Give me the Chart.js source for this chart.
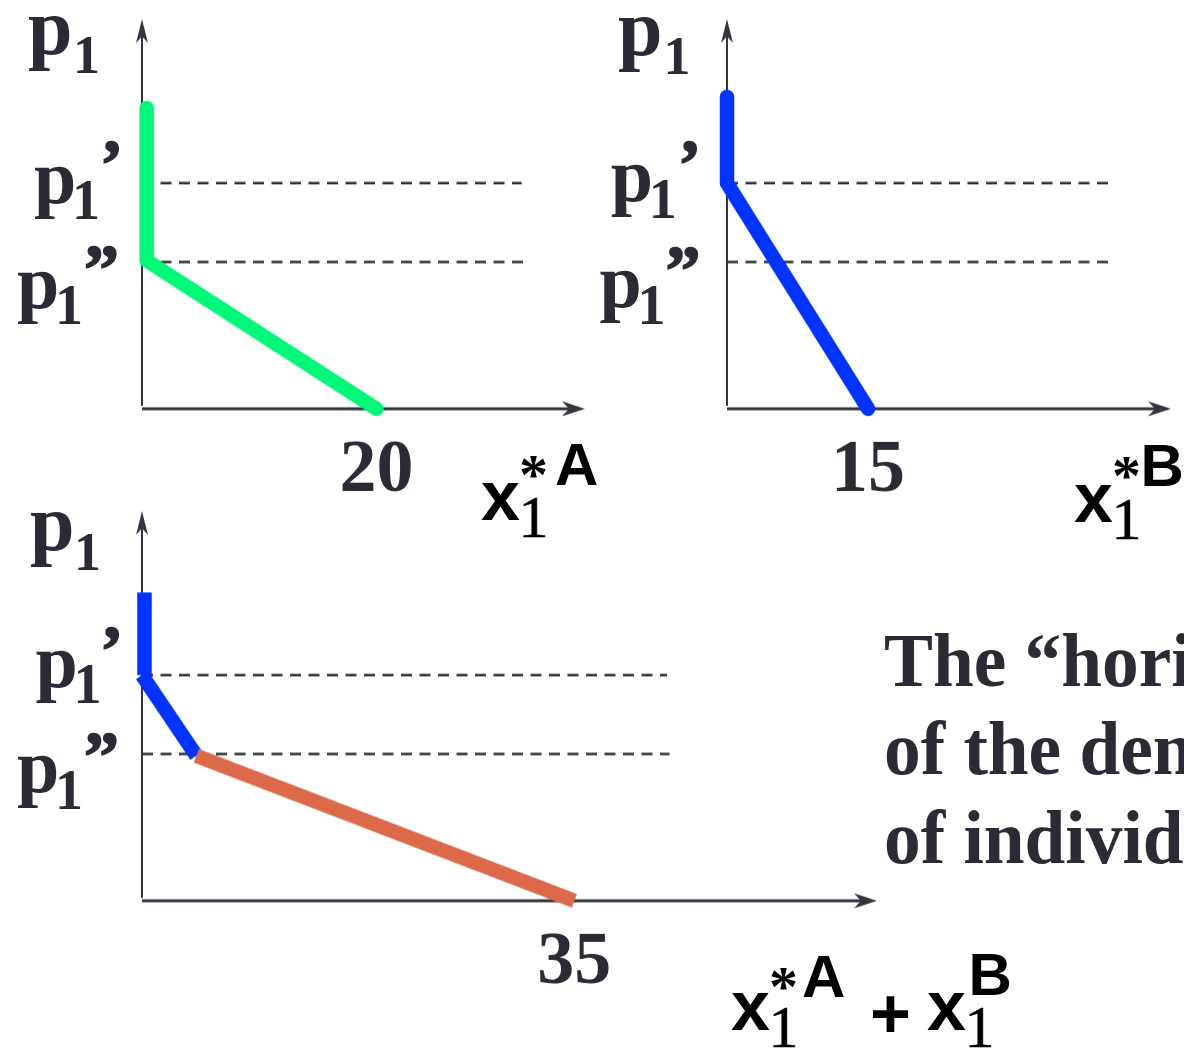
<!DOCTYPE html>
<html>
<head>
<meta charset="utf-8">
<script src="https://cdn.jsdelivr.net/npm/chart.js@4/dist/chart.umd.min.js"></script>
<style>
  html, body { margin:0; padding:0; background:#ffffff; }
  body { width:1184px; height:1050px; overflow:hidden; position:relative; }
  .box { position:absolute; left:0; top:0; }
  #labels { position:absolute; left:0; top:0; pointer-events:none; overflow:hidden; }
  .serifB { font-family:'Liberation Serif','Times New Roman',serif; font-weight:bold; fill:#2b2b36; }
  .prime  { font-family:'Liberation Serif','Times New Roman',serif; font-weight:bold; fill:#2b2b36; stroke:#2b2b36; stroke-width:1.6; }
  .serifR { font-family:'Liberation Serif','Times New Roman',serif; font-weight:normal; fill:#000; stroke:#000; stroke-width:0.6; }
  .star   { font-family:'Liberation Serif','Times New Roman',serif; font-weight:bold; fill:#000; }
  .sansB  { font-family:'Liberation Sans',Arial,sans-serif; font-weight:bold; fill:#000; }
</style>
</head>
<body>
<div class="box" id="wA"><canvas id="cA"></canvas></div>
<div class="box" id="wB"><canvas id="cB"></canvas></div>
<div class="box" id="wC"><canvas id="cC"></canvas></div>
<svg id="labels" width="1184" height="1050" xmlns="http://www.w3.org/2000/svg"></svg>
<script>
// ---------------- DATA ----------------
const PRICE_HIGH = 6.15;   // p1'
const PRICE_LOW  = 4.0;    // p1''
const Y_MAX = 10.62;

// Consumer A demand
const demandA_x = [0.4, 0.4, 20];
const demandA_y = [8.2, 4.04, 0];
// Consumer B demand
const demandB_x = [0, 0, 15];
const demandB_y = [8.5, 6.15, 0];
// Market (horizontal sum) demand, three pieces
const sumTop_x = [0.2, 0.2];
const sumTop_y = [8.4, 6.15];
const sumMid_x = [0, 4.4];
const sumMid_y = [6.15, 3.95];
const sumLow_x = [4.4, 35];
const sumLow_y = [3.95, 0];

// dashed price reference lines (x extents)
const dashA_high_x = [0, 32.4];
const dashA_low_x  = [0, 32.9];
const dashB_high_x = [0, 41.3];
const dashB_low_x  = [0, 41.0];
const dashC_high_x = [0, 42.5];
const dashC_low_x  = [0, 42.7];

// axis extents (x)
const xMaxA = 37.8, xMaxB = 47.2, xMaxC = 59.5;

// tick labels
const ticksA = [20];
const ticksB = [15];
const ticksC = [35];

// texts
const priceSymbol = 'p';
const priceSub = '1';
const primeOne = '\u2019';
const primeTwo = '\u201D';
const paragraph = ['The \u201Chorizontal sum\u201D', 'of the demand curves', 'of individual consumers'];

// ---------------- STYLE / LAYOUT ----------------
const AXIS = '#353541';
const DASH = '#2c2c38';
const GREEN = '#00F878';
const BLUE = '#0033FF';
const ORANGE = '#DC6A4A';
const LINE_W = 14.5;

const targets = {
  A: {left:142.4, top:19,  width:443.1, height:388.6},
  B: {left:727,   top:19,  width:444,   height:388.6},
  C: {left:142.4, top:511, width:734.6, height:389}
};

function pts(xs, ys) { return xs.map((x, i) => ({x: x, y: ys[i]})); }
function flat(xs, y) { return xs.map(x => ({x: x, y: y})); }

function curve(data, color, cap) {
  return { data, borderColor: color, borderWidth: LINE_W, pointRadius: 0, fill: false,
           tension: 0, borderCapStyle: cap, borderJoinStyle: cap === 'round' ? 'round' : 'miter',
           order: 0, clip: false };
}
function dashed(data) {
  return { data, borderColor: DASH, borderWidth: 2.6, borderDash: [11, 7.5], pointRadius: 0,
           fill: false, tension: 0, order: 5, clip: false };
}

const axesPlugin = {
  id: 'axesArrows',
  beforeDatasetsDraw(chart) {
    const ctx = chart.ctx;
    const xs = chart.scales.x, ys = chart.scales.y;
    const x0 = xs.getPixelForValue(0), y0 = ys.getPixelForValue(0);
    const xEnd = xs.getPixelForValue(xs.max), yEnd = ys.getPixelForValue(ys.max);
    ctx.save();
    ctx.strokeStyle = AXIS; ctx.fillStyle = AXIS;
    // vertical axis
    ctx.lineWidth = 2;
    ctx.beginPath(); ctx.moveTo(x0, y0 - 3); ctx.lineTo(x0, yEnd + 12); ctx.stroke();
    ctx.beginPath();
    ctx.moveTo(x0, yEnd); ctx.lineTo(x0 - 6, yEnd + 24); ctx.lineTo(x0, yEnd + 17); ctx.lineTo(x0 + 6, yEnd + 24);
    ctx.closePath(); ctx.fill();
    // horizontal axis
    ctx.lineWidth = 3;
    ctx.beginPath(); ctx.moveTo(x0, y0); ctx.lineTo(xEnd - 12, y0); ctx.stroke();
    ctx.beginPath();
    ctx.moveTo(xEnd, y0); ctx.lineTo(xEnd - 23, y0 - 7.5); ctx.lineTo(xEnd - 16, y0); ctx.lineTo(xEnd - 23, y0 + 7.5);
    ctx.closePath(); ctx.fill();
    ctx.restore();
  }
};

function build(id, xMax, tickVals, datasets) {
  const t = targets[id];
  const wrap = document.getElementById('w' + id);
  wrap.style.width = (t.width + 100) + 'px';
  wrap.style.height = (t.height + 200) + 'px';
  const chart = new Chart(document.getElementById('c' + id), {
    type: 'line',
    data: { datasets },
    options: {
      responsive: true, maintainAspectRatio: false, animation: false, events: [],
      layout: { padding: { left: 30, right: 30, top: 30, bottom: 10 } },
      plugins: { legend: { display: false }, tooltip: { enabled: false } },
      scales: {
        x: {
          type: 'linear', min: 0, max: xMax,
          grid: { display: false, drawTicks: false }, border: { display: false },
          afterBuildTicks: (s) => { s.ticks = tickVals.map(v => ({ value: v })); },
          ticks: { autoSkip: false, maxRotation: 0, padding: 18, color: '#2b2b36',
                   font: { family: "'Liberation Serif', 'Times New Roman', serif", weight: 'bold', size: 74 },
                   callback: (v) => String(v) }
        },
        y: { type: 'linear', min: 0, max: Y_MAX, display: false }
      }
    },
    plugins: [axesPlugin]
  });
  const ca = chart.chartArea;
  const ow = wrap.clientWidth - (ca.right - ca.left);
  const oh = wrap.clientHeight - (ca.bottom - ca.top);
  wrap.style.width = (t.width + ow) + 'px';
  wrap.style.height = (t.height + oh) + 'px';
  chart.resize();
  chart.update('none');
  const c2 = chart.chartArea;
  wrap.style.left = (t.left - c2.left) + 'px';
  wrap.style.top = (t.top - c2.top) + 'px';
  return chart;
}

build('A', xMaxA, ticksA, [
  curve(pts(demandA_x, demandA_y), GREEN, 'round'),
  dashed(flat(dashA_high_x, PRICE_HIGH)),
  dashed(flat(dashA_low_x, PRICE_LOW))
]);
build('B', xMaxB, ticksB, [
  curve(pts(demandB_x, demandB_y), BLUE, 'round'),
  dashed(flat(dashB_high_x, PRICE_HIGH)),
  dashed(flat(dashB_low_x, PRICE_LOW))
]);
build('C', xMaxC, ticksC, [
  curve(pts(sumLow_x, sumLow_y), ORANGE, 'butt'),
  curve(pts(sumMid_x, sumMid_y), BLUE, 'butt'),
  curve(pts(sumTop_x, sumTop_y), BLUE, 'butt'),
  dashed(flat(dashC_high_x, PRICE_HIGH)),
  dashed(flat(dashC_low_x, PRICE_LOW))
]);

// ---------------- LABELS (SVG text) ----------------
const svg = document.getElementById('labels');
function txt(str, x, y, size, cls, transform) {
  const el = document.createElementNS('http://www.w3.org/2000/svg', 'text');
  el.setAttribute('x', x); el.setAttribute('y', y);
  el.setAttribute('font-size', size); el.setAttribute('class', cls);
  if (transform) el.setAttribute('transform', transform);
  el.textContent = str;
  svg.appendChild(el);
}
// price axis title "p1"
function axisTitle(px, pb, sx, sb) {
  txt(priceSymbol, px, pb, 80, 'serifB');
  txt(priceSub, sx, sb, 54, 'serifB');
}
// price level label
function priceLabel(px, pb, sb, prime, primeX, primeB) {
  txt(priceSymbol, px, pb, 76, 'serifB');
  txt(priceSub, px + 38, sb, 56, 'serifB');
  txt(prime, primeX, primeB, 70, 'prime');
}
axisTitle(28, 54, 73, 73);
priceLabel(34, 202.5, 219, primeOne, 100, 188);
priceLabel(17, 307.5, 324, primeTwo, 84, 293);

axisTitle(618, 55, 663.5, 73.5);
priceLabel(610.8, 201, 217.5, primeOne, 678, 188);
priceLabel(599.5, 306.5, 324, primeTwo, 665.5, 293.5);

axisTitle(30, 550, 74, 570);
priceLabel(35.6, 687, 703, primeOne, 100, 674);
priceLabel(17, 792, 809, primeTwo, 84, 779.5);

// quantity axis titles
function qTitle(x, base, sup, supX, supBase) {
  txt('x', x, base, 70, 'sansB');
  txt('1', x + 37.5, base + 17, 60, 'serifR');
  if (sup.star) txt('*', x + 38, supBase + 9, 58, 'star');
  txt(sup.letter, supX, supBase, 60, 'sansB');
}
qTitle(481, 520, {star: true, letter: 'A'}, 555, 485);
qTitle(1074, 522, {star: true, letter: 'B'}, 1140.6, 486);
qTitle(731, 1030, {star: true, letter: 'A'}, 802, 997);
txt('+', 870, 1038, 70, 'sansB');
qTitle(927, 1030, {star: false, letter: 'B'}, 968.6, 995);

const paraBase = [686, 774, 863];
paragraph.forEach((line, i) => txt(line, 884, paraBase[i], 76, 'serifB', 'translate(884 0) scale(0.965 1) translate(-884 0)'));
</script>
</body>
</html>
